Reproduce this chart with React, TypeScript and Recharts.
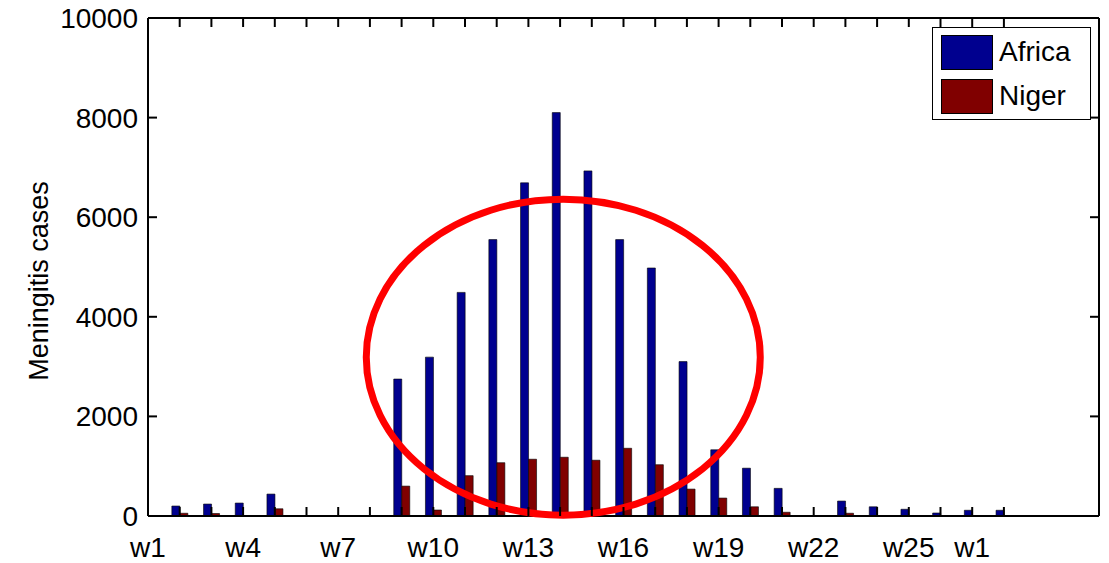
import { Bar, BarChart, Legend, ReferenceDot, ReferenceLine, XAxis, YAxis } from 'recharts';

// bar positions on the x axis (1 = first bar)
const weekPositions = [
  1, 2, 3, 4, 5, 6, 7, 8, 9, 10, 11, 12, 13, 14, 15, 16, 17, 18, 19, 20, 21,
  22, 23, 24, 25, 26, 27,
];
const africaCases = [
  200, 240, 260, 440, 0, 0, 0, 2750, 3190, 4490, 5550, 6690, 8100, 6930, 5550,
  4980, 3100, 1330, 960, 555, 0, 300, 185, 135, 60, 115, 115,
];
const nigerCases = [
  55, 50, 0, 145, 0, 0, 0, 600, 120, 810, 1070, 1140, 1180, 1120, 1360, 1030,
  540, 360, 185, 75, 0, 55, 0, 0, 0, 0, 0,
];

// labelled ticks (matlab put them at 0,3,6.. so they sit left of the bars)
const weekTickPositions = [0, 3, 6, 9, 12, 15, 18, 21, 24, 26];
const weekTickLabels = ['w1', 'w4', 'w7', 'w10', 'w13', 'w16', 'w19', 'w22', 'w25', 'w1'];
const caseTicks = [0, 2000, 4000, 6000, 8000, 10000];

const seriesNames = ['Africa', 'Niger'];
const seriesColors = ['#00008F', '#800000'];

const X_MAX = 30;
const Y_MAX = 10000;

const chartData = weekPositions.map((week, i) => ({
  week,
  africa: africaCases[i],
  niger: nigerCases[i],
}));

const allXTicks = [0, ...weekPositions];

const FONT = "'Liberation Sans', Arial, Helvetica, sans-serif";
const TICK_LEN = 9;

const BottomTick = ({ x, y, payload }: any) => {
  const idx = weekTickPositions.indexOf(payload.value);
  const hasMark = weekPositions.includes(payload.value);
  return (
    <g>
      {hasMark && (
        <line x1={x} x2={x} y1={y} y2={y - TICK_LEN} stroke='#000' strokeWidth={2} />
      )}
      {idx >= 0 && (
        <text x={x} y={y + 41} textAnchor='middle' fontSize={28} fontFamily={FONT} fill='#000'>
          {weekTickLabels[idx]}
        </text>
      )}
    </g>
  );
};

const LeftTick = ({ x, y, payload }: any) => (
  <g>
    <line x1={x} x2={x + TICK_LEN} y1={y} y2={y} stroke='#000' strokeWidth={2} />
    <text x={x - 10} y={y + 10} textAnchor='end' fontSize={28} fontFamily={FONT} fill='#000'>
      {payload.value}
    </text>
  </g>
);

// inward tick marks on the top and right edges of the box
const TopMark = ({ x1, y1, y2 }: any) => {
  const top = Math.min(y1, y2);
  return <line x1={x1} x2={x1} y1={top} y2={top + TICK_LEN} stroke='#000' strokeWidth={2} />;
};

const RightMark = ({ x1, x2, y1 }: any) => {
  const right = Math.max(x1, x2);
  return <line x1={right} x2={right - TICK_LEN} y1={y1} y2={y1} stroke='#000' strokeWidth={2} />;
};

const YLabel = () => (
  <text
    transform='translate(48,281) rotate(-90)'
    textAnchor='middle'
    fontSize={27}
    fontFamily={FONT}
    fill='#000'
  >
    Meningitis cases
  </text>
);

const OutbreakEllipse = ({ cx, cy }: any) => (
  <ellipse cx={cx} cy={cy} rx={197} ry={158} fill='none' stroke='#FF0000' strokeWidth={7} />
);

const LegendBox = () => (
  <div
    style={{
      width: 157,
      height: 91,
      border: '1px solid #000',
      background: '#fff',
      fontFamily: FONT,
      fontSize: 28,
      boxSizing: 'content-box',
    }}
  >
    {seriesNames.map((name, i) => (
      <div
        key={name}
        style={{ display: 'flex', alignItems: 'center', height: 44, marginTop: i === 0 ? 2 : 0 }}
      >
        <div
          style={{
            width: 50,
            height: 33,
            marginLeft: 8,
            marginRight: 6,
            background: seriesColors[i],
            border: '1px solid #000',
          }}
        />
        <span>{name}</span>
      </div>
    ))}
  </div>
);

export default function App() {
  return (
    <div style={{ position: 'absolute', left: 0, top: 0, width: 1109, height: 563, background: '#fff' }}>
      <BarChart
        width={1109}
        height={563}
        data={chartData}
        margin={{ top: 18, right: 10, bottom: 0, left: 0 }}
        barGap={0}
      >
        <XAxis
          dataKey='week'
          type='number'
          domain={[0, X_MAX]}
          ticks={allXTicks}
          interval={0}
          height={47}
          tickSize={0}
          tickMargin={0}
          tickLine={false}
          tick={<BottomTick />}
          axisLine={{ stroke: '#000', strokeWidth: 2 }}
        />
        <YAxis
          type='number'
          domain={[0, Y_MAX]}
          ticks={caseTicks}
          interval={0}
          width={148}
          tickSize={0}
          tickMargin={0}
          tickLine={false}
          tick={<LeftTick />}
          axisLine={{ stroke: '#000', strokeWidth: 2 }}
          label={{ content: () => <YLabel /> }}
        />
        <Bar
          dataKey='africa'
          name={seriesNames[0]}
          fill={seriesColors[0]}
          stroke='#000'
          strokeWidth={0.6}
          barSize={8}
          isAnimationActive={false}
        />
        <Bar
          dataKey='niger'
          name={seriesNames[1]}
          fill={seriesColors[1]}
          stroke='#000'
          strokeWidth={0.6}
          barSize={8}
          isAnimationActive={false}
        />
        {weekPositions.map((w) => (
          <ReferenceLine key={`top-${w}`} x={w} shape={TopMark} />
        ))}
        {caseTicks.map((v) => (
          <ReferenceLine key={`right-${v}`} y={v} shape={RightMark} />
        ))}
        <ReferenceLine y={Y_MAX} stroke='#000' strokeWidth={2} />
        <ReferenceLine x={X_MAX} stroke='#000' strokeWidth={2} />
        <ReferenceDot x={13.1} y={3190} r={1} shape={<OutbreakEllipse />} />
        <Legend
          layout='vertical'
          align='center'
          verticalAlign='middle'
          content={<LegendBox />}
          wrapperStyle={{ left: 932, top: 27, width: 159, height: 93 }}
        />
      </BarChart>
    </div>
  );
}
